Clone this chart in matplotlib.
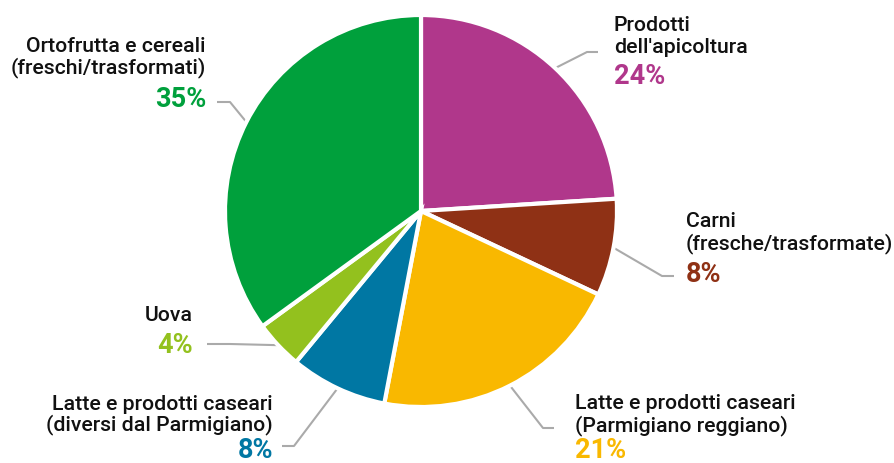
import numpy as np
import matplotlib.pyplot as plt

# dati
categorie = [
    ["Prodotti", "dell'apicoltura"],
    ["Carni", "(fresche/trasformate)"],
    ["Latte e prodotti caseari", "(Parmigiano reggiano)"],
    ["Latte e prodotti caseari", "(diversi dal Parmigiano)"],
    ["Uova"],
    ["Ortofrutta e cereali", "(freschi/trasformati)"],
]
valori = [24, 8, 21, 8, 4, 35]
colori = ["#b0378b", "#8f3115", "#f9b800", "#0077a3", "#93c11e", "#00a03c"]

W, H = 895, 464
plt.rcParams["font.family"] = ["Roboto", "DejaVu Sans"]

fig = plt.figure(figsize=(W / 100, H / 100), dpi=100)
ax = fig.add_axes([0, 0, 1, 1])
ax.axis("off")

cx, cy, r = 421, H - 212, 196
wedges, _ = ax.pie(valori, colors=colori, startangle=90, counterclock=False,
                   center=(cx, cy), radius=r,
                   wedgeprops=dict(edgecolor="white", linewidth=3))
ax.set_xlim(0, W)
ax.set_ylim(0, H)
ax.set_aspect("equal")

# layout etichette (pixel immagine, y dall'alto)
# gomito, fine linea, x testo, allineamento, baseline righe, baseline percentuale
layout = [
    ((587, 53), (598, 53), 614, "left", [31, 53], 84),
    ((662, 277), (674, 277), 686, "left", [227, 249], 282),
    ((543, 429), (554, 429), 575, "left", [409, 431], 458),
    ((294, 447), (282, 447), 273, "right", [410, 430], 458),
    ((230, 345), (207, 345), 193, "right", [321], 353),
    ((230, 103), (217, 103), 206, "right", [52, 73], 107),
]

for w, v, col, nomi, lay in zip(wedges, valori, colori, categorie, layout):
    ang = np.deg2rad((w.theta1 + w.theta2) / 2)
    x0 = cx + r * np.cos(ang)
    y0 = cy + r * np.sin(ang)
    (ex, ey), (fx, fy), tx, ha, bases, pbase = lay
    ax.plot([x0, ex, fx], [y0, H - ey, H - fy], color="#aaaaaa", lw=1.5,
            solid_capstyle="butt", zorder=0)
    for riga, b in zip(nomi, bases):
        ax.text(tx, H - b, riga, ha=ha, va="baseline", fontsize=15.3,
                fontweight="medium", color="#111111")
    ax.text(tx, H - pbase, f"{v}%", ha=ha, va="baseline", fontsize=19.5,
            fontweight="bold", color=col)

fig.savefig("out.png", dpi=100)
